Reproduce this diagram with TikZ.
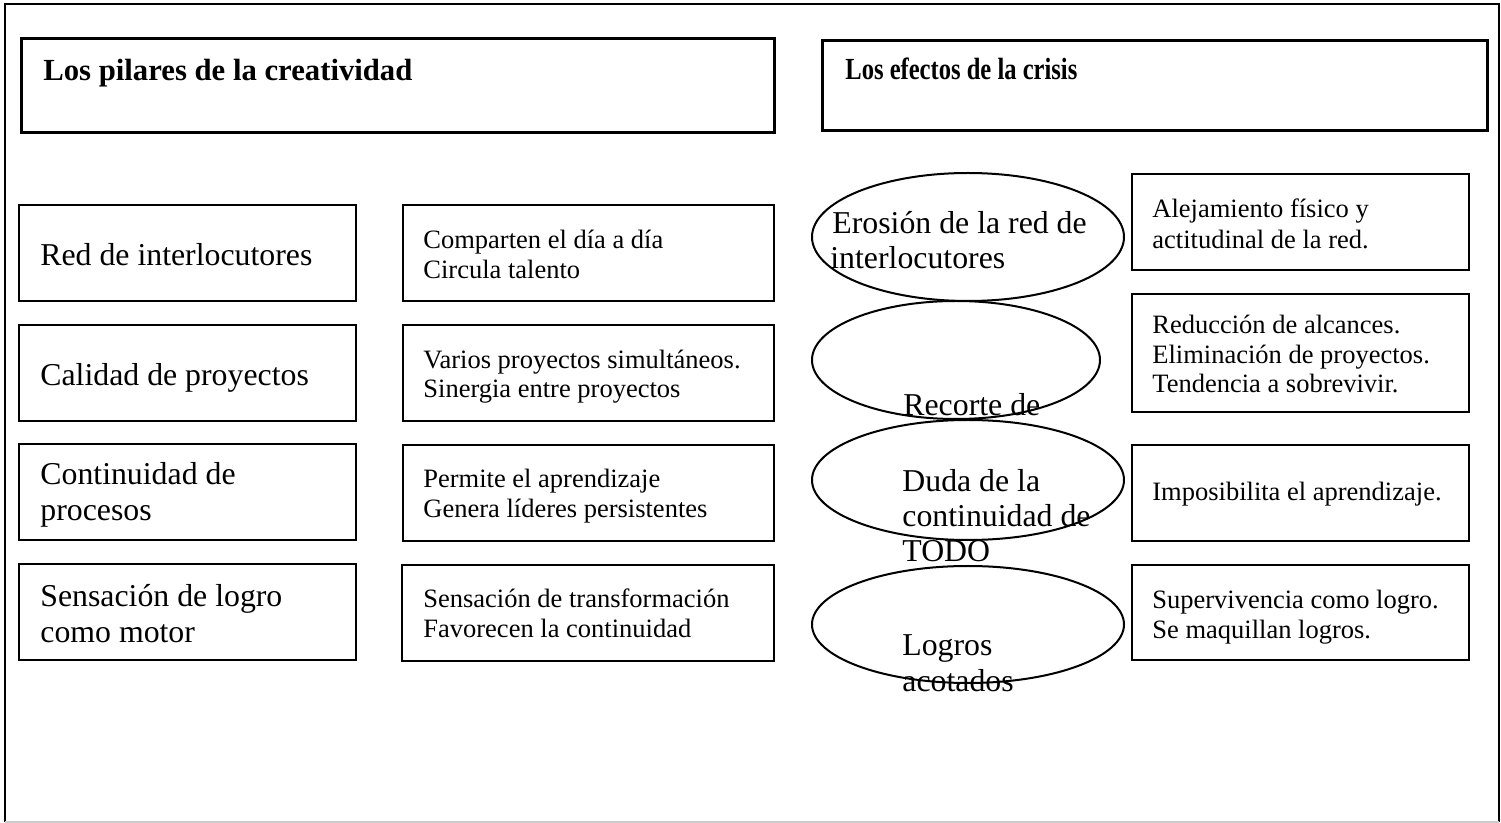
\documentclass[tikz,border=0pt]{standalone}
\usepackage{fontspec}
\usepackage{graphicx}
\setmainfont{Liberation Serif}
\usetikzlibrary{shapes.geometric,fit}
\tikzset{
  box/.style={draw, line width=1pt, rectangle, inner sep=0pt},
  titlebox/.style={draw, line width=1.5pt, rectangle, inner sep=0pt},
  oval/.style={draw, line width=1pt, ellipse, inner sep=0pt},
  big/.style={font=\fontsize{15.9}{19}\selectfont, anchor=base west, inner sep=0pt},
  small/.style={font=\fontsize{13.25}{16}\selectfont, anchor=base west, inner sep=0pt},
  ttl/.style={font=\bfseries\fontsize{15.35}{18}\selectfont, anchor=base west, inner sep=0pt},
}
\begin{document}
\begin{tikzpicture}[x=0.5pt,y=-0.5pt]
\useasboundingbox (0,0) rectangle (1501,823);
% outer frame
\draw[line width=1pt] (5,822) -- (5,4) -- (1499,4) -- (1499,822);
\draw[line width=1pt, gray!40] (5,822) -- (1499,822);
% titles
\node[titlebox, fit={(21,39)(774,133)}] (tl) {};
\node[ttl] (tlt) at (43,81) {Los pilares de la creatividad};
\node[titlebox, fit={(822,41)(1487,131)}] (tr) {};
\node[ttl] (trt) at (845,80) {\scalebox{0.8}[1]{Los efectos de la crisis}};
% left column
\node[box, fit={(19,205)(356,301)}] (l1) {};
\node[big] (l1a) at (40,266) {Red de interlocutores};
\node[box, fit={(19,325)(356,421)}] (l2) {};
\node[big] (l2a) at (40,386) {Calidad de proyectos};
\node[box, fit={(19,444)(356,540)}] (l3) {};
\node[big] (l3a) at (40,485) {Continuidad de};
\node[big] (l3b) at (40,521) {procesos};
\node[box, fit={(19,564)(356,660)}] (l4) {};
\node[big] (l4a) at (40,607) {Sensación de logro};
\node[big] (l4b) at (40,643) {como motor};
% middle column
\node[box, fit={(403,205)(774,301)}] (m1) {};
\node[small] (m1a) at (423,249) {Comparten el día a día};
\node[small] (m1b) at (423,279) {Circula talento};
\node[box, fit={(403,325)(774,421)}] (m2) {};
\node[small] (m2a) at (423,369) {Varios proyectos simultáneos.};
\node[small] (m2b) at (423,398) {Sinergia entre proyectos};
\node[box, fit={(403,445)(774,541)}] (m3) {};
\node[small] (m3a) at (423,488) {Permite el aprendizaje};
\node[small] (m3b) at (423,518) {Genera líderes persistentes};
\node[box, fit={(402,565)(774,661)}] (m4) {};
\node[small] (m4a) at (423,608) {Sensación de transformación};
\node[small] (m4b) at (423,638) {Favorecen la continuidad};
% ellipses
\node[oval, minimum width=156pt, minimum height=64pt] (e1) at (968,237) {};
\node[oval, minimum width=144pt, minimum height=59pt] (e2) at (956,360) {};
\node[oval, minimum width=156pt, minimum height=60pt] (e3) at (968,480) {};
\node[oval, minimum width=156pt, minimum height=58.5pt] (e4) at (968,624.5) {};
\node[big] (e1a) at (832,234) {Erosión de la red de};
\node[big] (e1b) at (830,269) {interlocutores};
\node[big] (e2a) at (903,416) {Recorte de};
\node[big] (e3a) at (902,492) {Duda de la};
\node[big] (e3b) at (902,527) {continuidad de};
\node[big] (e3c) at (902,562) {TODO};
\node[big] (e4a) at (902,656) {Logros};
\node[big] (e4b) at (902,691) {acotados};
% right column
\node[box, fit={(1132,174)(1469,270)}] (r1) {};
\node[small] (r1a) at (1152,218) {Alejamiento físico y};
\node[small] (r1b) at (1152,249) {actitudinal de la red.};
\node[box, fit={(1132,294)(1469,412)}] (r2) {};
\node[small] (r2a) at (1152,334) {Reducción de alcances.};
\node[small] (r2b) at (1152,364) {Eliminación de proyectos.};
\node[small] (r2c) at (1152,393) {Tendencia a sobrevivir.};
\node[box, fit={(1132,445)(1469,541)}] (r3) {};
\node[small] (r3a) at (1152,501) {Imposibilita el aprendizaje.};
\node[box, fit={(1132,565)(1469,660)}] (r4) {};
\node[small] (r4a) at (1152,609) {Supervivencia como logro.};
\node[small] (r4b) at (1152,639) {Se maquillan logros.};
\end{tikzpicture}
\end{document}
